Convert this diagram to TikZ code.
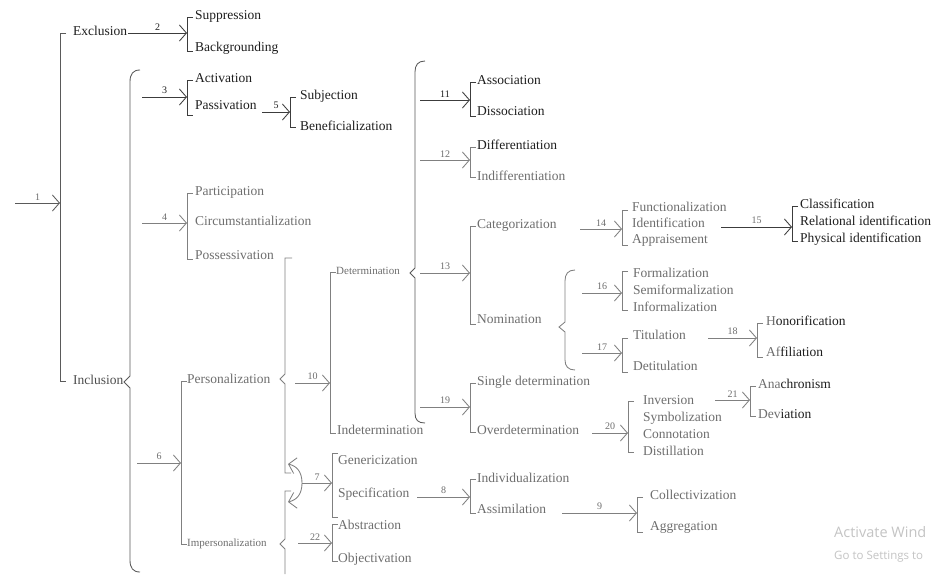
\documentclass[tikz,border=0pt]{standalone}
\usepackage{fontspec}
\setmainfont{Liberation Serif}
\newfontfamily\winfont{Open Sans}
\usetikzlibrary{arrows.meta}
\definecolor{tblack}{HTML}{1E1E1E}
\definecolor{tgray}{HTML}{6E6E6E}
\definecolor{tmid}{HTML}{4E4E4E}
\definecolor{ldark}{HTML}{3C3C3C}
\definecolor{lmid}{HTML}{5A5A5A}
\definecolor{lgray}{HTML}{808080}
\definecolor{winc}{HTML}{C4C4C4}
\tikzset{
 lbl/.style={anchor=mid west, inner sep=0pt, font=\fontsize{13.5}{16}\selectfont, text=tgray},
 lblk/.style={lbl, text=tblack},
 small/.style={anchor=mid west, inner sep=0pt, font=\fontsize{11}{13}\selectfont, text=tgray},
 num/.style={inner sep=0pt, above=2.5pt, font=\fontsize{10}{12}\selectfont, text=tgray},
 numk/.style={num, text=tblack},
 brk/.style={draw=lgray, line width=0.85pt},
 brkk/.style={draw=ldark, line width=0.85pt},
 brkm/.style={draw=lmid, line width=0.85pt},
 tip/.style={-{Straight Barb[length=7pt,width=16pt,line width=0.85pt]}},
 arr/.style={brk, tip},
 arrk/.style={brkk, tip},
 arrm/.style={brkm, tip},
 winbig/.style={anchor=mid west, inner sep=0pt, font=\winfont\fontsize{14.5}{17}\selectfont, text=winc},
 winsmall/.style={anchor=mid west, inner sep=0pt, font=\winfont\fontsize{11.5}{14}\selectfont, text=winc},
}
\newcommand\mkbracket[6][brk]{%
 \draw[#1] (#3+6,#4) -- (#3,#4) -- (#3,#5) -- (#3+6,#5);
 \coordinate (#2) at (#3,#6);}
\begin{document}
\begin{tikzpicture}[x=1pt,y=-1pt]
\fill[white] (0,0) rectangle (940,574);
\useasboundingbox (0,0) rectangle (940,574);

% level 1
\node[lblk] (excl) at (73,33) {Exclusion};
\node[lbl, text=tmid] (incl) at (73,382) {Inclusion};
\coordinate (s1) at (15,203);
\mkbracket[brkm]{b1}{60}{33}{381}{203}
\draw[arrm] (s1) -- node[num]{1} (b1);

% Exclusion
\node[lblk] (supp) at (195,17) {Suppression};
\node[lblk] (back) at (195,49) {Backgrounding};
\mkbracket[brkk]{b2}{187}{17}{51}{33}
\draw[arrk] ([xshift=1pt]excl.mid east) -- node[numk]{2} (b2);

% Inclusion brace
\draw[brkm] (140,70) .. controls (133,70) and (130,74) .. (130,82) -- (130,376) -- (124,382) -- (130,388) -- (130,560) .. controls (130,568) and (133,572) .. (140,572);

% 3
\node[lblk] (actv) at (195,80) {Activation};
\node[lblk] (pasv) at (195,107) {Passivation};
\mkbracket[brkk]{b3}{187}{80}{115}{97}
\coordinate (s3) at (142,97);
\draw[arrk] (s3) -- node[numk]{3} (b3);

% 5
\node[lblk] (subj) at (300,97) {Subjection};
\node[lblk] (bene) at (300,128) {Beneficialization};
\mkbracket[brkk]{b5}{290}{97}{127}{112}
\coordinate (s5) at (262,112);
\draw[arrk] (s5) -- node[numk]{5} (b5);

% 4
\node[lbl] (part) at (195,193) {Participation};
\node[lbl] (circ) at (195,223) {Circumstantialization};
\node[lbl] (poss) at (195,257) {Possessivation};
\mkbracket{b4}{187}{193}{259}{223}
\coordinate (s4) at (142,223);
\draw[arr] (s4) -- node[num]{4} (b4);

% 6
\node[lbl] (pers) at (187,381) {Personalization};
\node[small] (imp) at (187,544) {Impersonalization};
\mkbracket{b6}{181}{381}{544}{463}
\coordinate (s6) at (137,463);
\draw[arr] (s6) -- node[num]{6} (b6);

% Personalization / Impersonalization braces
\draw[brk] (292,258) -- (285,258) -- (285,374) -- (280,379) -- (285,384) -- (285,473) -- (291,473);
\draw[brk] (291,491) -- (285,491) -- (285,539) -- (280,544) -- (285,549) -- (285,574);

% 10
\node[small] (det) at (336,272) {Determination};
\node[lbl] (indet) at (337,432) {Indetermination};
\mkbracket{b10}{330}{272}{433}{383}
\coordinate (s10) at (295,383);
\draw[arr] (s10) -- node[num]{10} (b10);

% Determination brace
\draw[brkm] (425,61) .. controls (418,61) and (415,65) .. (415,72) -- (415,268) -- (410,273) -- (415,278) -- (415,413) .. controls (415,420) and (418,423) .. (425,423);

% 11
\node[lblk] (assoc) at (477,82) {Association};
\node[lblk] (dissoc) at (477,113) {Dissociation};
\mkbracket[brkk]{b11}{470}{82}{116}{100}
\coordinate (s11) at (420,100);
\draw[arrk] (s11) -- node[numk]{11} (b11);

% 12
\node[lblk] (diff) at (477,147) {Differentiation};
\node[lbl] (indiff) at (477,178) {Indifferentiation};
\mkbracket{b12}{470}{147}{177}{160}
\coordinate (s12) at (420,160);
\draw[arr] (s12) -- node[num]{12} (b12);

% 13
\node[lbl] (categ) at (477,226) {Categorization};
\node[lbl] (nomin) at (477,321) {Nomination};
\mkbracket{b13}{470}{226}{324}{273}
\coordinate (s13) at (420,273);
\draw[arr] (s13) -- node[num]{13} (b13);

% 19
\node[lbl] (single) at (477,383) {Single determination};
\node[lbl] (overd) at (477,432) {Overdetermination};
\mkbracket{b19}{470}{383}{432}{407}
\coordinate (s19) at (420,407);
\draw[arr] (s19) -- node[num]{19} (b19);

% 14
\node[lbl] (func) at (632,209) {Functionalization};
\node[lbl] (ident) at (632,225) {Identification};
\node[lbl] (appr) at (632,241) {Appraisement};
\mkbracket{b14}{622}{210}{245}{229}
\coordinate (s14) at (580,229);
\draw[arr] (s14) -- node[num]{14} (b14);

% 15
\node[lblk] (class) at (800,206) {Classification};
\node[lblk] (relid) at (800,223) {Relational identification};
\node[lblk] (physid) at (800,240) {Physical identification};
\mkbracket[brkk]{b15}{792}{206}{241}{227}
\coordinate (s15) at (721,227);
\draw[arrk] (s15) -- node[num]{15} (b15);

% Nomination brace
\draw[brk] (575,270) .. controls (568,270) and (565,274) .. (565,281) -- (565,322) -- (559,327) -- (565,332) -- (565,360) .. controls (565,366) and (568,370) .. (575,370);

% 16
\node[lbl] (formal) at (633,275) {Formalization};
\node[lbl] (semif) at (633,292) {Semiformalization};
\node[lbl] (inform) at (633,309) {Informalization};
\mkbracket{b16}{622}{271}{310}{293}
\coordinate (s16) at (582,293);
\draw[arr] (s16) -- node[num]{16} (b16);

% 17
\node[lbl] (titul) at (633,337) {Titulation};
\node[lbl] (detit) at (633,368) {Detitulation};
\mkbracket{b17}{622}{338}{372}{353}
\coordinate (s17) at (582,353);
\draw[arr] (s17) -- node[num]{17} (b17);

% 18
\node[lblk] (honor) at (766,323) {\textcolor{tgray}{H}onorification};
\node[lblk] (affil) at (766,354) {\textcolor{tgray}{Af}filiation};
\mkbracket{b18}{757}{323}{357}{338}
\coordinate (s18) at (708,338);
\draw[arr] (s18) -- node[num]{18} (b18);

% 20
\node[lbl] (inver) at (643,402) {Inversion};
\node[lbl] (symb) at (643,419) {Symbolization};
\node[lbl] (conno) at (643,436) {Connotation};
\node[lbl] (disti) at (643,453) {Distillation};
\mkbracket{b20}{628}{401}{452}{433}
\coordinate (s20) at (592,433);
\draw[arr] (s20) -- node[num]{20} (b20);

% 21
\node[lblk] (anach) at (758,386) {\textcolor{tgray}{Ana}chronism};
\node[lblk] (devia) at (758,416) {\textcolor{tgray}{Dev}iation};
\mkbracket{b21}{750}{386}{416}{400}
\coordinate (s21) at (715,400);
\draw[arr] (s21) -- node[num]{21} (b21);

% 7
\node[lbl] (gener) at (338,462) {Genericization};
\node[lbl] (speci) at (338,495) {Specification};
\mkbracket{b7}{332}{453}{517}{483}
\coordinate (c7) at (302,483);
\coordinate (t7a) at (288,464);
\coordinate (t7b) at (288,502);
\draw[arr] (c7) .. controls (302,472) and (297,466) .. (t7a);
\draw[arr] (c7) .. controls (302,494) and (297,500) .. (t7b);
\draw[arr] (c7) -- node[num]{7} (b7);

% 22
\node[lbl] (abstr) at (338,527) {Abstraction};
\node[lbl] (objec) at (338,560) {Objectivation};
\mkbracket{b22}{332}{524}{561}{543}
\coordinate (s22) at (298,543);
\draw[arr] (s22) -- node[num]{22} (b22);

% 8
\node[lbl] (indiv) at (477,480) {Individualization};
\node[lbl] (assim) at (477,511) {Assimilation};
\mkbracket{b8}{470}{479}{513}{497}
\coordinate (s8) at (417,497);
\draw[arr] (s8) -- node[num]{8} (b8);

% 9
\node[lbl] (collec) at (650,497) {Collectivization};
\node[lbl] (aggre) at (650,528) {Aggregation};
\mkbracket{b9}{637}{497}{532}{513}
\coordinate (s9) at (562,513);
\draw[arr] (s9) -- node[num]{9} (b9);

% overlay text
\begin{scope}
\clip (0,0) rectangle (940,574);
\node[winbig] (actw) at (834,535) {Activate Wind};
\node[winsmall] (gotos) at (834,557) {Go to Settings to};
\end{scope}
\end{tikzpicture}
\end{document}
